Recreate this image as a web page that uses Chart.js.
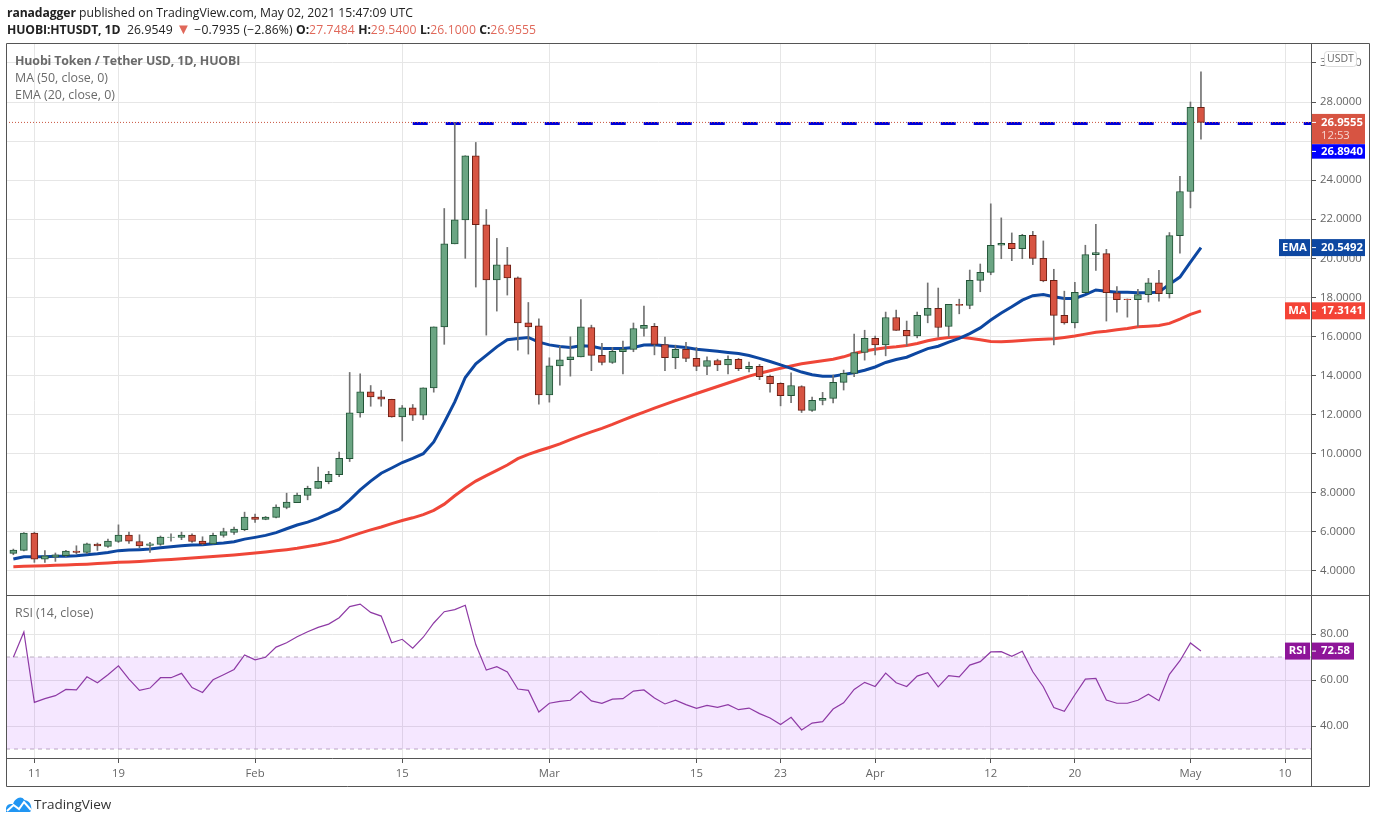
<!DOCTYPE html>
<html>
<head>
<meta charset="utf-8">
<title>HTUSDT</title>
<script src="https://cdn.jsdelivr.net/npm/chart.js@4/dist/chart.umd.js"></script>
<style>
    html, body { margin: 0; padding: 0; background: #fff; width: 1376px; height: 823px; overflow: hidden; }
    body { position: relative; font-family: "Open Sans", sans-serif; }
    canvas { position: absolute; left: 0; top: 0; }
    .txt { position: absolute; white-space: nowrap; }
    .head { font-size: 12.2px; color: #222; left: 7px; }
    .head b { font-weight: 700; letter-spacing: -0.1px; }
    .quote { letter-spacing: 0.12px; }
    .arrow { color: #e0685a; font-size: 15px; line-height: 0; }
    .red { color: #e0685a; }
    .pane { font-size: 12.4px; color: #6a6a6a; left: 15px; }
    .pane b { letter-spacing: -0.14px; }
</style>
</head>
<body>
<canvas id="chart" width="1376" height="823"></canvas>
<div class="txt head" style="top:4px"><b>ranadagger</b> published on TradingView.com, May 02, 2021 15:47:09 UTC</div>
<div class="txt head quote" style="top:21px"><b>HUOBI:HTUSDT, 1D</b>&nbsp; 26.9549 <span class="arrow">▼</span> −0.7935 (−2.86%) <b>O:</b><span class="red">27.7484</span>&nbsp;<b>H:</b><span class="red">29.5400</span>&nbsp;<b>L:</b><span class="red">26.1000</span>&nbsp;<b>C:</b><span class="red">26.9555</span></div>
<div class="txt pane" style="top:52px"><b>Huobi Token / Tether USD, 1D, HUOBI</b></div>
<div class="txt pane" style="top:69px">MA (50, close, 0)</div>
<div class="txt pane" style="top:86px">EMA (20, close, 0)</div>
<div class="txt pane" style="top:604px">RSI (14, close)</div>
<svg style="position:absolute;left:6px;top:797px" width="26" height="15" viewBox="0 0 26 15">
    <path d="M0 15V11Q1 7 5 7H7Q8 3 12 1Q16 -.5 18.5 3Q24 4 25 9Q26 13 24 15Z" fill="#2196f3"/>
    <polyline points="1,14 7.5,8 13,12 18,5 25,13" fill="none" stroke="#fff" stroke-width="2"/>
</svg>
<div class="txt" style="left:34px;top:795px;font-size:13.5px;color:#333">TradingView</div>

<script>
// Daily candles, Jan 9 to May 2 2021
const opens = [
    4.90,5.05,5.94,4.60,4.71,4.78,5.02,4.95,5.38,5.26,
    5.51,5.84,5.51,5.31,5.36,5.72,5.72,5.84,5.53,5.39,
    5.82,5.97,6.11,6.76,6.64,6.74,7.25,7.50,7.86,8.23,
    8.57,8.93,9.75,12.09,13.17,12.91,12.79,11.89,12.35,11.97,
    13.37,16.49,20.74,21.97,25.25,21.72,18.90,19.67,19.00,16.70,
    16.55,13.01,14.50,14.81,14.96,16.46,15.03,14.67,15.22,15.34,
    16.41,16.52,15.59,14.91,15.34,14.88,14.47,14.77,14.55,14.83,
    14.35,14.47,13.96,13.60,12.97,13.44,12.22,12.73,12.83,13.65,
    14.11,15.18,15.90,15.57,16.97,16.31,16.03,17.08,17.44,16.51,
    17.64,17.59,18.87,19.28,20.67,20.77,20.50,21.18,20.00,18.87,
    17.08,16.70,18.24,20.19,20.24,18.24,17.92,17.88,18.14,18.75,
    18.19,21.16,23.42,27.73
];
const closes = [
    5.07,5.94,4.61,4.77,4.82,5.02,4.95,5.39,5.28,5.53,
    5.84,5.53,5.28,5.39,5.73,5.74,5.84,5.51,5.39,5.82,
    6.01,6.14,6.76,6.64,6.76,7.27,7.52,7.88,8.23,8.59,
    8.95,9.77,12.09,13.17,12.91,12.79,11.89,12.35,11.97,13.37,
    16.49,20.74,21.97,25.25,21.72,18.90,19.67,19.00,16.70,16.49,
    13.01,14.50,14.81,14.96,16.49,15.03,14.67,15.24,15.36,16.41,
    16.57,15.59,14.91,15.34,14.88,14.47,14.77,14.55,14.83,14.35,
    14.47,13.94,13.58,12.97,13.49,12.22,12.73,12.83,13.65,14.11,
    15.18,15.90,15.57,16.97,16.31,16.03,17.08,17.44,16.46,17.64,
    17.59,18.87,19.28,20.67,20.77,20.50,21.18,20.00,18.85,17.08,
    16.70,18.26,20.19,20.29,18.24,17.88,17.88,18.14,18.75,18.19,
    21.16,23.42,27.73,26.96
];
const highs = [
    5.12,5.96,5.99,5.04,4.92,5.05,5.29,5.43,5.43,5.63,
    6.36,5.99,5.85,5.46,5.79,5.90,5.99,5.90,5.75,5.94,
    6.19,6.24,7.01,6.91,6.79,7.38,7.98,7.98,8.34,9.32,
    9.10,10.09,14.16,14.09,13.49,13.24,12.79,12.47,12.52,13.37,
    16.49,22.55,26.94,25.25,25.93,22.50,21.02,20.56,19.05,17.74,
    16.90,14.91,15.50,15.98,17.89,16.58,15.65,15.44,15.76,16.69,
    17.56,16.67,15.97,15.56,15.70,15.44,14.96,14.84,15.01,14.88,
    14.69,14.57,14.02,13.63,14.14,13.48,12.90,13.14,14.02,14.28,
    16.12,16.32,16.02,17.25,17.35,16.79,17.25,18.74,18.48,17.64,
    17.91,19.40,19.71,22.79,22.07,21.30,21.23,21.38,20.89,19.44,
    18.32,18.77,20.67,21.74,20.46,18.56,17.92,18.41,18.97,19.38,
    21.32,24.20,28.00,29.54
];
const lows = [
    4.83,5.03,4.44,4.44,4.49,4.75,4.88,4.88,5.05,5.21,
    5.46,5.41,5.19,4.95,5.31,5.53,5.60,5.46,5.34,5.38,
    5.73,5.87,6.06,6.48,6.62,6.72,7.18,7.50,7.64,8.22,
    8.46,8.83,9.60,11.87,12.43,12.43,11.87,10.65,11.70,11.75,
    13.15,15.60,20.74,20.00,18.53,16.07,17.30,18.12,15.30,15.10,
    12.53,12.64,13.51,13.97,14.96,14.25,14.55,14.62,14.09,15.22,
    16.02,15.06,14.25,14.35,14.71,14.25,14.04,14.25,14.08,14.25,
    14.19,13.79,13.15,12.45,12.61,12.11,12.16,12.50,12.60,13.26,
    13.94,14.79,15.06,15.01,16.31,15.52,15.93,16.70,15.97,15.98,
    17.16,17.42,18.29,19.16,19.98,19.88,19.98,19.68,18.80,15.57,
    16.63,16.44,18.24,19.38,16.79,17.25,16.99,16.51,17.76,17.81,
    17.97,20.27,22.58,26.10
];
const ema20 = [
    4.61,4.73,4.73,4.73,4.75,4.75,4.78,4.83,4.88,4.95,
    5.04,5.07,5.09,5.12,5.19,5.24,5.29,5.33,5.34,5.39,
    5.43,5.50,5.63,5.72,5.82,5.96,6.16,6.35,6.50,6.69,
    6.93,7.16,7.63,8.15,8.60,9.00,9.27,9.55,9.76,10.00,
    10.60,11.60,12.65,13.90,14.60,15.03,15.47,15.83,15.90,15.95,
    15.71,15.57,15.49,15.44,15.52,15.50,15.39,15.39,15.39,15.44,
    15.56,15.58,15.53,15.49,15.44,15.35,15.29,15.24,15.18,15.13,
    15.03,14.88,14.72,14.55,14.37,14.18,14.04,13.97,13.97,14.06,
    14.14,14.27,14.44,14.67,14.82,14.94,15.16,15.38,15.50,15.71,
    15.90,16.15,16.44,16.84,17.20,17.52,17.86,18.09,18.15,18.03,
    17.95,17.95,18.14,18.38,18.32,18.27,18.26,18.24,18.24,18.27,
    18.67,19.04,19.80,20.55
];
const ma50 = [
    4.22,4.24,4.26,4.27,4.29,4.31,4.33,4.35,4.38,4.41,
    4.44,4.46,4.49,4.52,4.56,4.59,4.62,4.66,4.70,4.74,
    4.78,4.82,4.87,4.92,4.97,5.03,5.09,5.16,5.25,5.34,
    5.45,5.58,5.76,5.94,6.10,6.25,6.42,6.58,6.72,6.88,
    7.10,7.42,7.85,8.25,8.60,8.88,9.15,9.42,9.75,9.97,
    10.15,10.32,10.50,10.72,10.93,11.12,11.30,11.50,11.72,11.93,
    12.13,12.33,12.53,12.72,12.90,13.08,13.26,13.44,13.62,13.80,
    13.97,14.12,14.25,14.37,14.49,14.60,14.68,14.76,14.84,14.96,
    15.13,15.26,15.35,15.42,15.47,15.54,15.64,15.78,15.88,15.95,
    15.97,15.91,15.83,15.74,15.73,15.76,15.79,15.83,15.86,15.88,
    15.95,16.02,16.12,16.22,16.27,16.34,16.41,16.50,16.53,16.56,
    16.67,16.89,17.13,17.31
];
const rsi14 = [
    69.9,80.9,50.3,51.9,53.2,55.9,55.7,61.4,58.8,62.3,
    66.2,60.4,55.5,56.5,61.0,61.0,62.9,56.7,54.6,60.1,
    62.3,64.6,70.9,68.8,69.9,74.3,76.2,78.8,81.0,82.9,
    84.3,87.1,91.9,93.0,89.4,87.8,76.2,77.7,73.8,78.6,
    84.8,89.7,90.6,92.5,75.4,64.3,65.8,63.5,56.1,55.5,
    46.1,49.9,50.7,51.2,55.1,50.9,49.9,51.7,51.9,55.2,
    55.7,52.2,49.6,51.2,49.3,47.7,49.0,48.1,49.3,47.1,
    47.8,45.4,43.5,40.7,43.8,38.3,41.3,41.9,47.4,50.1,
    55.9,59.0,57.2,63.0,58.8,57.2,61.7,63.2,57.0,61.9,
    61.4,66.5,68.0,72.2,72.3,70.3,72.5,63.6,57.1,48.0,
    46.4,53.6,60.4,60.7,51.3,49.9,49.9,51.2,53.8,51.0,
    62.5,68.4,76.1,72.6
];

// Axis ticks; days count from Jan 9
const tickDays = [2, 10, 23, 37, 51, 65, 73, 82, 93, 101, 112, 121];
const tickLabels = ['11', '19', 'Feb', '15', 'Mar', '15', '23', 'Apr', '12', '20', 'May', '10'];
const priceTicks = [4, 6, 8, 10, 12, 14, 16, 18, 20, 22, 24, 26, 28, 30];
const rsiTicks = [40, 60, 80];

const lastPrice = 26.9555;
const resistance = 26.8940;
const lastEma = 20.5492;
const lastMa = 17.3141;
const lastRsi = 72.58;
const rsiUpper = 70;
const rsiLower = 30;

const dayMin = -0.7, dayMax = 123.47;
const resistanceStart = 38;

const GREEN = '#6ba583', GREEN_DARK = '#225437';
const RED = '#d75442', RED_DARK = '#6b1f14';
const AXIS_FONT = { family: '"Open Sans", sans-serif', size: 11.3 };

const days = opens.map((_, i) => i);
const isUp = days.map(i => closes[i] >= opens[i]);
const toXY = arr => arr.map((v, i) => ({ x: i, y: v }));
const hLine = (from, to, y) => [{ x: from, y: y }, { x: to, y: y }];

// Price tags, frames and the axis unit box go on top of everything
const panePlugin = {
    id: 'panePlugin',
    afterDraw(chart) {
        const ctx = chart.ctx;
        const area = chart.chartArea;
        const yMain = chart.scales.y;
        const yRsi = chart.scales.yRsi;
        const tagRight = 1365;
        const rsiRight = 1354;

        function tag(y, h, color, text, side, right) {
            const end = right || tagRight;
            ctx.fillStyle = color;
            ctx.fillRect(area.right + 1, y - h / 2, end - area.right - 1, h);
            ctx.fillStyle = '#fff';
            ctx.font = 'bold 11.3px "Open Sans", sans-serif';
            ctx.textAlign = 'left';
            ctx.textBaseline = 'middle';
            ctx.fillText(text, 1321, y);
            ctx.fillRect(area.right + 1, y - 0.5, 4, 1);
            if (side) {
                const w = side === 'EMA' ? 31 : 25;
                ctx.fillStyle = color;
                ctx.fillRect(area.right - w - 1, y - h / 2, w, h);
                ctx.fillStyle = '#fff';
                ctx.textAlign = 'center';
                ctx.fillText(side, area.right - 1 - w / 2, y);
            }
        }

        ctx.save();
        const py = yMain.getPixelForValue(lastPrice);
        ctx.fillStyle = RED;
        ctx.fillRect(area.right + 1, py - 8.5, tagRight - area.right - 1, 30);
        ctx.fillStyle = '#fff';
        ctx.font = 'bold 11.3px "Open Sans", sans-serif';
        ctx.textAlign = 'left';
        ctx.textBaseline = 'middle';
        ctx.fillText(lastPrice.toFixed(4), 1321, py);
        ctx.fillRect(area.right + 1, py - 0.5, 4, 1);
        ctx.fillStyle = '#f6d5d0';
        ctx.font = '11.3px "Open Sans", sans-serif';
        ctx.fillText('12:53', 1321, py + 13);

        // the resistance tag sits just under the last price tag
        tag(py + 29, 14.5, '#0000ff', resistance.toFixed(4));
        tag(yMain.getPixelForValue(lastEma), 17, '#0d47a1', lastEma.toFixed(4), 'EMA');
        tag(yMain.getPixelForValue(lastMa), 17, '#f44336', lastMa.toFixed(4), 'MA');
        tag(yRsi.getPixelForValue(lastRsi), 17, '#8e1599', lastRsi.toFixed(2), 'RSI', rsiRight);

        // USDT box
        ctx.fillStyle = '#fff';
        ctx.strokeStyle = '#dcdcdc';
        ctx.lineWidth = 1;
        ctx.beginPath();
        ctx.roundRect(1324.5, 51.5, 32, 15, 3);
        ctx.fill();
        ctx.stroke();
        ctx.fillStyle = '#666';
        ctx.font = '10.5px "Open Sans", sans-serif';
        ctx.textAlign = 'center';
        ctx.fillText('USDT', 1340.5, 59.5);

        // Frames
        ctx.strokeStyle = '#555';
        ctx.lineWidth = 1;
        ctx.beginPath();
        ctx.rect(6.5, 43.5, 1363, 743);
        ctx.moveTo(6.5, yRsi.top + 0.5); ctx.lineTo(1369.5, yRsi.top + 0.5);
        ctx.moveTo(6.5, area.bottom + 0.5); ctx.lineTo(area.right + 0.5, area.bottom + 0.5);
        ctx.moveTo(area.right + 0.5, 43.5); ctx.lineTo(area.right + 0.5, 786.5);
        ctx.stroke();
        ctx.restore();
    }
};

new Chart(document.getElementById('chart').getContext('2d'), {
    type: 'bar',
    plugins: [panePlugin],
    data: {
        datasets: [
            // Candle bodies
            {
                label: 'Bodies',
                data: days.map(i => ({ x: i, y: [opens[i], closes[i]] })),
                yAxisID: 'y',
                barThickness: 7,
                grouped: false,
                backgroundColor: days.map(i => isUp[i] ? GREEN : RED),
                borderColor: days.map(i => isUp[i] ? GREEN_DARK : RED_DARK),
                borderWidth: 1,
                borderSkipped: false,
                order: 1
            },
            // Candle wicks
            {
                label: 'Wicks',
                data: days.map(i => ({ x: i, y: [lows[i], highs[i]] })),
                yAxisID: 'y',
                barThickness: 1,
                grouped: false,
                backgroundColor: '#737373',
                order: 2
            },
            {
                type: 'line',
                label: 'EMA',
                data: toXY(ema20),
                yAxisID: 'y',
                borderColor: '#0d47a1',
                borderWidth: 3,
                pointRadius: 0,
                tension: 0,
                order: 3
            },
            {
                type: 'line',
                label: 'MA',
                data: toXY(ma50),
                yAxisID: 'y',
                borderColor: '#ef4638',
                borderWidth: 3,
                pointRadius: 0,
                tension: 0,
                order: 4
            },
            {
                type: 'line',
                label: 'Last price',
                data: hLine(dayMin, dayMax, lastPrice),
                yAxisID: 'y',
                borderColor: '#c8553f',
                borderWidth: 1,
                borderDash: [1, 2],
                pointRadius: 0,
                order: 5
            },
            {
                type: 'line',
                label: 'Resistance',
                data: hLine(resistanceStart, dayMax, resistance),
                yAxisID: 'y',
                borderColor: '#0000d8',
                borderWidth: 3,
                borderDash: [15, 18],
                pointRadius: 0,
                order: 6
            },
            {
                type: 'line',
                label: 'RSI',
                data: toXY(rsi14),
                yAxisID: 'yRsi',
                borderColor: '#8e3aa5',
                borderWidth: 1.2,
                pointRadius: 0,
                tension: 0,
                order: 1
            },
            // RSI band between 70 and 30
            {
                type: 'line',
                label: 'RSI upper',
                data: hLine(dayMin, dayMax, rsiUpper),
                yAxisID: 'yRsi',
                borderColor: '#b9adbf',
                borderWidth: 1,
                borderDash: [4, 4],
                pointRadius: 0,
                fill: { value: rsiLower },
                backgroundColor: 'rgba(153,21,255,0.1)',
                order: 8
            },
            {
                type: 'line',
                label: 'RSI lower',
                data: hLine(dayMin, dayMax, rsiLower),
                yAxisID: 'yRsi',
                borderColor: '#b9adbf',
                borderWidth: 1,
                borderDash: [4, 4],
                pointRadius: 0,
                order: 8
            }
        ]
    },
    options: {
        responsive: false,
        animation: false,
        devicePixelRatio: 1,
        layout: { padding: { left: 6, top: 43, right: 7, bottom: 37 } },
        plugins: { legend: { display: false }, tooltip: { enabled: false } },
        scales: {
            x: {
                type: 'linear',
                offset: false,
                min: dayMin,
                max: dayMax,
                afterBuildTicks: scale => { scale.ticks = tickDays.map(v => ({ value: v })); },
                afterFit: scale => { scale.height = 28; },
                grid: { offset: false, color: '#e6e6e6', tickColor: '#555', tickLength: 5 },
                border: { display: false },
                ticks: {
                    autoSkip: false,
                    maxRotation: 0,
                    color: '#666',
                    font: AXIS_FONT,
                    padding: 4,
                    callback: v => tickLabels[tickDays.indexOf(v)]
                }
            },
            y: {
                position: 'right',
                stack: 'panes',
                stackWeight: 552,
                min: 2.77,
                max: 31.02,
                afterBuildTicks: scale => { scale.ticks = priceTicks.map(v => ({ value: v })); },
                afterFit: scale => { scale.width = 58; },
                grid: { color: '#e6e6e6', tickColor: '#555', tickLength: 5 },
                border: { display: false },
                ticks: { color: '#666', font: AXIS_FONT, padding: 4, callback: v => v.toFixed(4) }
            },
            yRsi: {
                position: 'right',
                stack: 'panes',
                stackWeight: 163,
                min: 26.1,
                max: 96.96,
                afterBuildTicks: scale => { scale.ticks = rsiTicks.map(v => ({ value: v })); },
                afterFit: scale => { scale.width = 58; },
                grid: { color: '#e6e6e6', tickColor: '#555', tickLength: 5 },
                border: { display: false },
                ticks: { color: '#666', font: AXIS_FONT, padding: 4, callback: v => v.toFixed(2) }
            }
        }
    }
});
</script>
</body>
</html>
